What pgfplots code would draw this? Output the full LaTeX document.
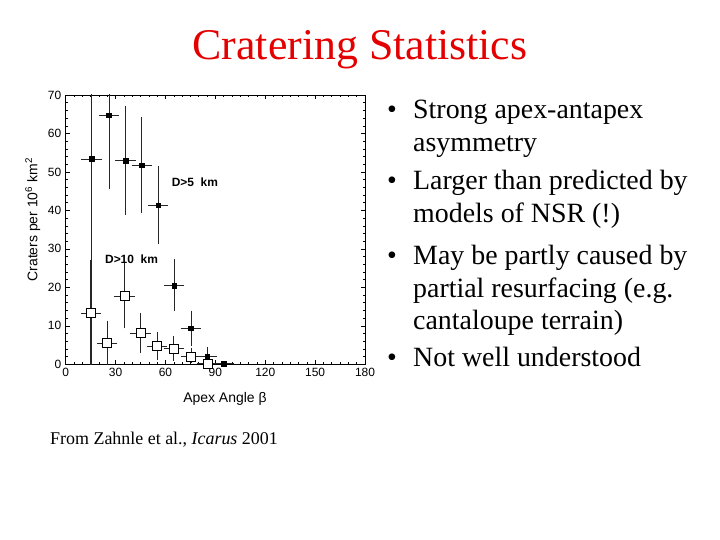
\documentclass[border=0pt]{standalone}
\usepackage{fontspec}
\setmainfont{Liberation Serif}
\setsansfont{Liberation Sans}
\usepackage{pgfplots}
\pgfplotsset{compat=1.18}
\definecolor{titlered}{RGB}{228,0,0}

% D>5 km (filled squares)
\pgfplotstableread{
x     y     ep    em
15.5  53.4  20.0  53.4
26.0  64.8  18.8  18.8
36.0  53.0  13.6  13.6
45.7  51.8  12.0  12.0
55.7  41.4   9.7   9.7
65.3  20.5   6.3   6.3
75.3   9.4   4.1   4.1
85.2   2.0   2.0   2.0
95.2   0.2   0.0   0.0
}\bigcraters

% D>10 km (open squares)
\pgfplotstableread{
x     y     ep    em
15.0  13.3  13.3  13.3
25.0   5.5   5.4   5.4
35.3  17.8   8.0   8.0
45.0   8.1   4.7   4.7
55.0   4.7   3.2   3.2
65.0   4.1   2.8   2.8
75.3   2.0   1.8   1.3
85.2   0.2   0.0   0.0
}\smallcraters

\begin{document}
\begin{tikzpicture}
\path[use as bounding box] (0,0) rectangle (720bp,540bp);

\node[anchor=base, text=titlered, font=\fontsize{44}{44}\selectfont] at (360bp,480bp) {Cratering Statistics};

\begin{axis}[
  at={(65.7bp,175.7bp)}, anchor=south west,
  width=299.3bp, height=269.3bp, scale only axis,
  xmin=0, xmax=180, ymin=0, ymax=70,
  xtick={0,30,...,180}, ytick={0,10,...,70},
  minor x tick num=5, minor y tick num=4,
  major tick length=4bp, minor tick length=2.5bp,
  axis line style={line width=0.7bp},
  every tick/.style={black, line width=0.5bp},
  /pgf/number format/assume math mode=true,
  ticklabel style={font=\sffamily\fontsize{12}{12}\selectfont},
  yticklabel style={xshift=-1bp},
  xlabel={Apex Angle β},
  ylabel={Craters per 10\textsuperscript{6} km\textsuperscript{2}},
  label style={font=\sffamily\fontsize{14}{14}\selectfont},
  xlabel style={at={(axis description cs:0.532,-0.14)}, anchor=base},
  ylabel style={at={(axis description cs:-0.11,0.537)}, anchor=center},
  error bars/error bar style={line width=0.6bp, black!85},
  error bars/error mark options={line width=0.6bp, mark size=1.8bp, black!85},
]
\addplot[only marks, mark=square*, mark size=4.5bp,
  mark options={fill=white, draw=black, line width=0.7bp},
  error bars/.cd, x dir=both, x fixed=5, y dir=both, y explicit]
  table[x=x, y=y, y error plus=ep, y error minus=em] {\smallcraters};
\addplot[only marks, mark=square*, mark size=2.3bp,
  mark options={fill=black, draw=black},
  error bars/.cd, x dir=both, x fixed=5, y dir=both, y explicit]
  table[x=x, y=y, y error plus=ep, y error minus=em] {\bigcraters};
\node[anchor=base west, font=\sffamily\bfseries\fontsize{12}{12}\selectfont] at (axis cs:61.7,46.2) {D>5\ \ km};
\node[anchor=base west, font=\sffamily\bfseries\fontsize{12}{12}\selectfont] at (axis cs:21.6,26.3) {D>10\ \ km};
\end{axis}

\begin{scope}[every node/.style={anchor=base west, inner sep=0pt, font=\fontsize{28}{28}\selectfont}]
\node at (387bp,421bp) {•};
\node at (413bp,421bp) {Strong apex-antapex};
\node at (413bp,388bp) {asymmetry};
\node at (387bp,350bp) {•};
\node at (413bp,350bp) {Larger than predicted by};
\node at (413bp,317bp) {models of NSR (!)};
\node at (387bp,275bp) {•};
\node at (413bp,275bp) {May be partly caused by};
\node at (413bp,242bp) {partial resurfacing (e.g.};
\node at (413bp,210bp) {cantaloupe terrain)};
\node at (387bp,173bp) {•};
\node at (413bp,173bp) {Not well understood};
\end{scope}

\node[anchor=base west, inner sep=0pt, font=\fontsize{18}{18}\selectfont] at (50bp,95bp) {From Zahnle et al., \textit{Icarus} 2001};
\end{tikzpicture}
\end{document}
